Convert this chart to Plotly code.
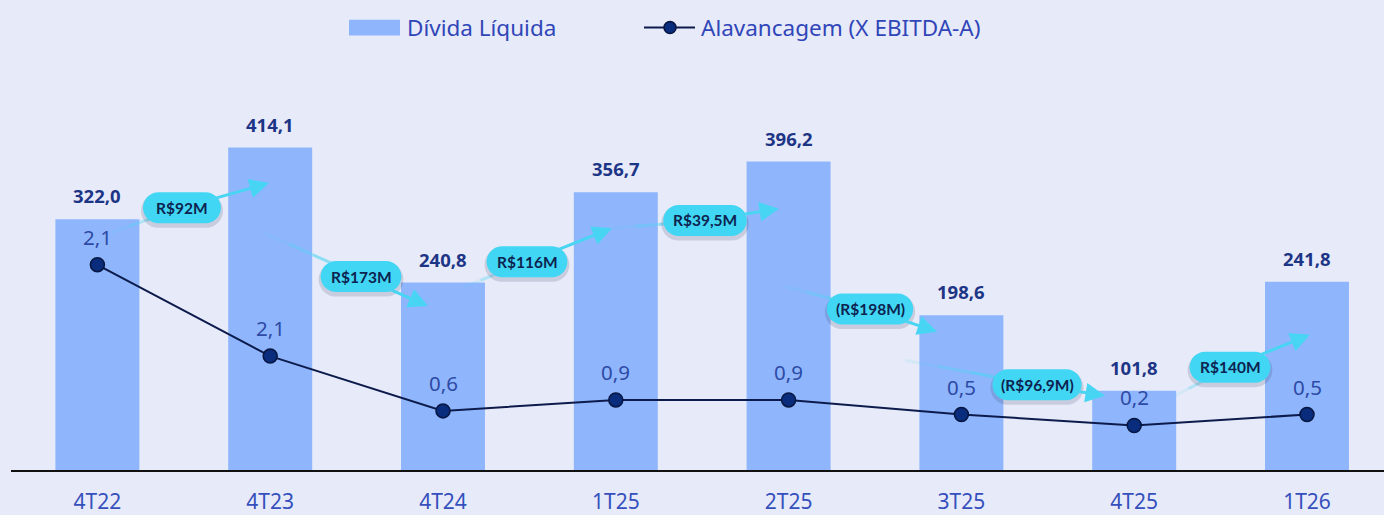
import plotly.graph_objects as go

# ---------------- data ----------------
categories = ["4T22", "4T23", "4T24", "1T25", "2T25", "3T25", "4T25", "1T26"]
divida_liquida = [322.0, 414.1, 240.8, 356.7, 396.2, 198.6, 101.8, 241.8]
# leverage as plotted (positions) and as labelled
alavancagem = [4.6, 2.1, 0.6, 0.9, 0.9, 0.5, 0.2, 0.5]
alavancagem_labels = ["2,1", "2,1", "0,6", "0,9", "0,9", "0,5", "0,2", "0,5"]
variation_labels = ["R$92M", "R$173M", "R$116M", "R$39,5M", "(R$198M)", "(R$96,9M)", "R$140M"]

# ---------------- styles / geometry ----------------
BG = "#e7eaf8"
BAR = "#8fb6fc"
LINE = "#0c1b4c"
MARK = "#0a2c7c"
CYAN = "#41d7f4"
LBL_DARK = "#1d3586"
LBL_BLUE = "#2d4aa6"
TICK = "#3550bd"
FONT = "Noto Sans"

PL, PT, PW, PH = 11, 60, 1373, 416.5
BASE_REF = 473.5         # baseline in the reference picture (px)
Y_SCALE = 0.791          # px per unit, primary axis
Y2_SCALE = 37.1          # px per unit, secondary axis
Y2_ZERO = 37.8           # px above baseline where secondary zero sits


def py_to_y(p):
    return (BASE_REF - p) / Y_SCALE


# arrow geometry in reference pixel positions: (tail, label centre, head)
arrows_px = [
    ((112, 232), (182, 207), (269, 182)),
    ((265, 233), (361, 277), (428, 307)),
    ((465, 287), (527, 262), (612, 228)),
    ((612, 228), (705, 220), (779, 208)),
    ((785, 287), (870, 310), (937, 333)),
    ((905, 362), (1037, 387), (1105, 398)),
    ((1175, 398), (1230, 369), (1310, 336)),
]
X0_PX, X_STEP = 97.4, 172.8


def px_to_x(p):
    return (p - X0_PX) / X_STEP


arrows = [tuple((px_to_x(a), py_to_y(b)) for a, b in trip) for trip in arrows_px]

x = list(range(len(categories)))

fig = go.Figure()
fig.add_trace(go.Bar(
    x=x, y=divida_liquida, width=0.486, marker=dict(color=BAR, line=dict(width=0)),
    name="Dívida Líquida", showlegend=False, hoverinfo="skip"))
fig.add_trace(go.Scatter(
    x=x, y=alavancagem, yaxis="y2", mode="lines+markers",
    line=dict(color=LINE, width=2),
    marker=dict(size=14, color=MARK, line=dict(color="#061640", width=1.5)),
    name="Alavancagem (X EBITDA-A)", showlegend=False, hoverinfo="skip"))

annotations = []
shapes = []

# bar value labels
for xi, v in zip(x, divida_liquida):
    annotations.append(dict(
        x=xi, y=v, xref="x", yref="y", text=f"{v:.1f}".replace(".", ","),
        showarrow=False, yanchor="bottom", yshift=9,
        font=dict(family=FONT, size=18.5, color=LBL_DARK, weight="bold")))

# line value labels
for xi, v, t in zip(x, alavancagem, alavancagem_labels):
    annotations.append(dict(
        x=xi, y=v, xref="x", yref="y2", text=t, showarrow=False,
        yanchor="middle", yshift=28,
        font=dict(family=FONT, size=20.5, color=LBL_BLUE)))


def pill(w, h, dx=0.0, dy=0.0):
    r = h / 2.0
    k = 0.5523 * r
    a = -w / 2 + r + dx
    b = w / 2 - r + dx
    t = h / 2 + dy
    bt = -h / 2 + dy
    L = -w / 2 + dx
    R = w / 2 + dx
    return (f"M {a},{bt} L {b},{bt} C {b + k},{bt} {R},{dy - k} {R},{dy} "
            f"C {R},{dy + k} {b + k},{t} {b},{t} L {a},{t} "
            f"C {a - k},{t} {L},{dy + k} {L},{dy} C {L},{dy - k} {a - k},{bt} {a},{bt} Z")


for (tail, lab, head), text in zip(arrows, variation_labels):
    # faded tail (gradient approximation)
    n = 4
    for i in range(n):
        f0, f1 = i / n, (i + 1) / n
        x0 = tail[0] + (lab[0] - tail[0]) * f0
        y0 = tail[1] + (lab[1] - tail[1]) * f0
        x1 = tail[0] + (lab[0] - tail[0]) * f1
        y1 = tail[1] + (lab[1] - tail[1]) * f1
        shapes.append(dict(type="line", xref="x", yref="y", x0=x0, y0=y0, x1=x1, y1=y1,
                           line=dict(color=f"rgba(72,213,243,{0.12 + 0.22 * i})", width=3),
                           layer="above"))
    w = 64 + 2.8 * len(text)
    h = 31
    # shadow
    shapes.append(dict(type="path", xref="x", yref="y", xsizemode="pixel", ysizemode="pixel",
                       xanchor=lab[0], yanchor=lab[1], path=pill(w + 4, h + 3, 0, -3),
                       fillcolor="rgba(40,50,90,0.16)", line=dict(width=0), layer="above"))
    shapes.append(dict(type="path", xref="x", yref="y", xsizemode="pixel", ysizemode="pixel",
                       xanchor=lab[0], yanchor=lab[1], path=pill(w, h),
                       fillcolor=CYAN, line=dict(width=0), layer="above"))
    annotations.append(dict(
        x=head[0], y=head[1], xref="x", yref="y", ax=lab[0], ay=lab[1],
        axref="x", ayref="y", text=text, showarrow=True,
        arrowhead=2, arrowsize=1.3, arrowwidth=3, arrowcolor="#48d5f3",
        font=dict(family="Lato", size=15.5, color="#0d2350", weight="bold")))

# ---------------- custom legend ----------------


def px_x(p):
    return (p - PL) / PW


def px_y(p):
    return (PT + PH - p) / PH


shapes.append(dict(type="rect", xref="paper", yref="paper",
                   x0=px_x(349), x1=px_x(400), y0=px_y(35), y1=px_y(19),
                   fillcolor=BAR, line=dict(width=0)))
shapes.append(dict(type="line", xref="paper", yref="paper",
                   x0=px_x(644), x1=px_x(695), y0=px_y(27), y1=px_y(27),
                   line=dict(color=LINE, width=2)))
shapes.append(dict(type="circle", xref="paper", yref="paper",
                   x0=px_x(664), x1=px_x(676), y0=px_y(33), y1=px_y(21),
                   fillcolor=MARK, line=dict(color="#061640", width=1.5)))
annotations.append(dict(x=px_x(405), y=px_y(27), xref="paper", yref="paper",
                        text="Dívida Líquida", showarrow=False, xanchor="left", yanchor="middle",
                        font=dict(family=FONT, size=22.5, color="#3046b8")))
annotations.append(dict(x=px_x(699), y=px_y(27), xref="paper", yref="paper",
                        text="Alavancagem (X EBITDA-A)", showarrow=False, xanchor="left",
                        yanchor="middle", font=dict(family=FONT, size=22.5, color="#3046b8")))

fig.update_layout(
    width=1384, height=515, autosize=False,
    margin=dict(l=PL, r=0, t=PT, b=515 - PT - PH, pad=0),
    paper_bgcolor=BG, plot_bgcolor=BG,
    showlegend=False,
    xaxis=dict(range=[-0.5, -0.5 + PW / X_STEP], tickvals=x, ticktext=categories,
               showgrid=False, zeroline=False, showline=True, linecolor="#111111",
               linewidth=1.5, ticks="", ticklabelstandoff=12,
               tickfont=dict(family=FONT, size=21, color=TICK), fixedrange=True),
    yaxis=dict(range=[0, PH / Y_SCALE], visible=False, showgrid=False, fixedrange=True),
    yaxis2=dict(range=[-Y2_ZERO / Y2_SCALE, (PH - Y2_ZERO) / Y2_SCALE],
                overlaying="y", visible=False, showgrid=False, fixedrange=True),
    annotations=annotations,
    shapes=shapes,
)

fig.write_html("out.html", config={"displayModeBar": False},
               post_script="document.body.style.margin='0';")
